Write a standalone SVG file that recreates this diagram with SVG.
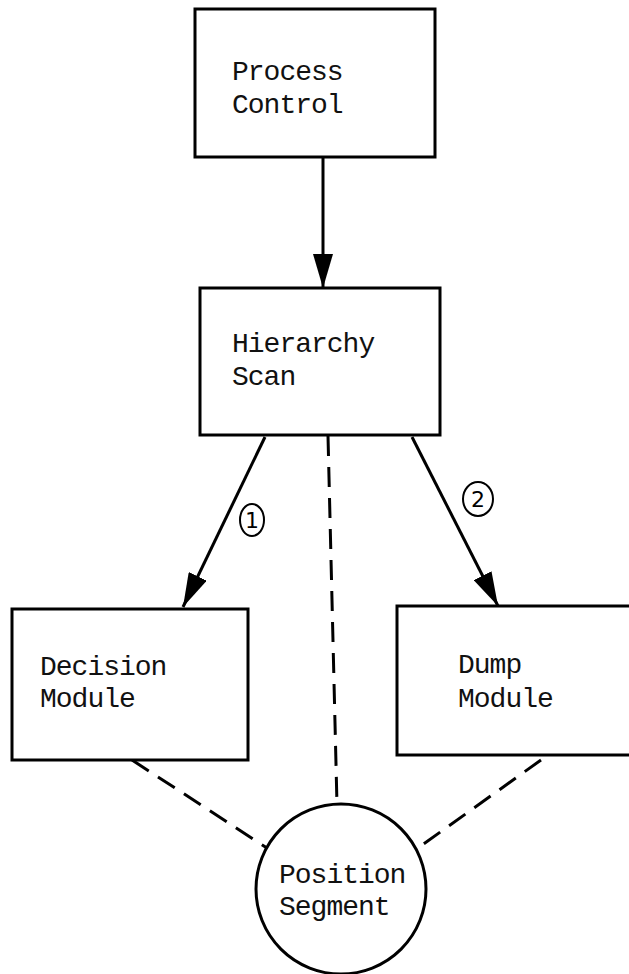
<svg xmlns="http://www.w3.org/2000/svg" width="629" height="974" viewBox="0 0 629 974">
<style>
.box{fill:#fff;stroke:#000;stroke-width:3}
.t{font-family:"Liberation Mono","DejaVu Sans Mono",monospace;font-size:28px;letter-spacing:-1px;fill:#111}
.c{fill:none;stroke:#000;stroke-width:3}
.d{fill:none;stroke:#000;stroke-width:3;stroke-dasharray:20 11}
.lab{fill:none;stroke:#000;stroke-width:2}
.lt{font-family:"DejaVu Sans",sans-serif;font-size:22px;fill:#000}
</style>
<defs>
<marker id="ah" markerUnits="userSpaceOnUse" viewBox="0 0 34 20" refX="34" refY="10" markerWidth="34" markerHeight="20" orient="auto">
<path d="M0,0 L34,10 L0,20 Z" fill="#000"/>
</marker>
</defs>
<rect width="629" height="974" fill="#fff"/>
<g id="connectors">
<line class="c" x1="323" y1="157" x2="323" y2="288" marker-end="url(#ah)"/>
<line class="c" x1="265" y1="437" x2="183" y2="607" marker-end="url(#ah)"/>
<line class="c" x1="412" y1="437" x2="498" y2="606" marker-end="url(#ah)"/>
<line class="d" x1="328" y1="436" x2="337" y2="805"/>
<line class="d" x1="132" y1="760" x2="267" y2="848"/>
<line class="d" x1="541" y1="760" x2="418" y2="848"/>
</g>
<g id="label1">
<ellipse class="lab" cx="252" cy="520" rx="12" ry="16"/>
<text class="lt" x="252" y="528" text-anchor="middle">1</text>
</g>
<g id="label2">
<ellipse class="lab" cx="478" cy="499" rx="15" ry="17"/>
<text class="lt" x="478" y="507" text-anchor="middle">2</text>
</g>
<g id="process-control">
<rect class="box" x="195" y="9" width="240" height="148"/>
<text class="t" x="232" y="80">Process</text>
<text class="t" x="232" y="113">Control</text>
</g>
<g id="hierarchy-scan">
<rect class="box" x="200" y="288" width="240" height="147"/>
<text class="t" x="232" y="352">Hierarchy</text>
<text class="t" x="232" y="385">Scan</text>
</g>
<g id="decision-module">
<rect class="box" x="12" y="609" width="236" height="151"/>
<text class="t" x="40" y="675">Decision</text>
<text class="t" x="40" y="707">Module</text>
</g>
<g id="dump-module">
<rect class="box" x="397" y="606" width="236" height="149"/>
<text class="t" x="458" y="673">Dump</text>
<text class="t" x="458" y="707">Module</text>
</g>
<g id="position-segment">
<circle class="c" cx="341" cy="889" r="85"/>
<text class="t" x="279" y="883">Position</text>
<text class="t" x="279" y="915">Segment</text>
</g>
</svg>
